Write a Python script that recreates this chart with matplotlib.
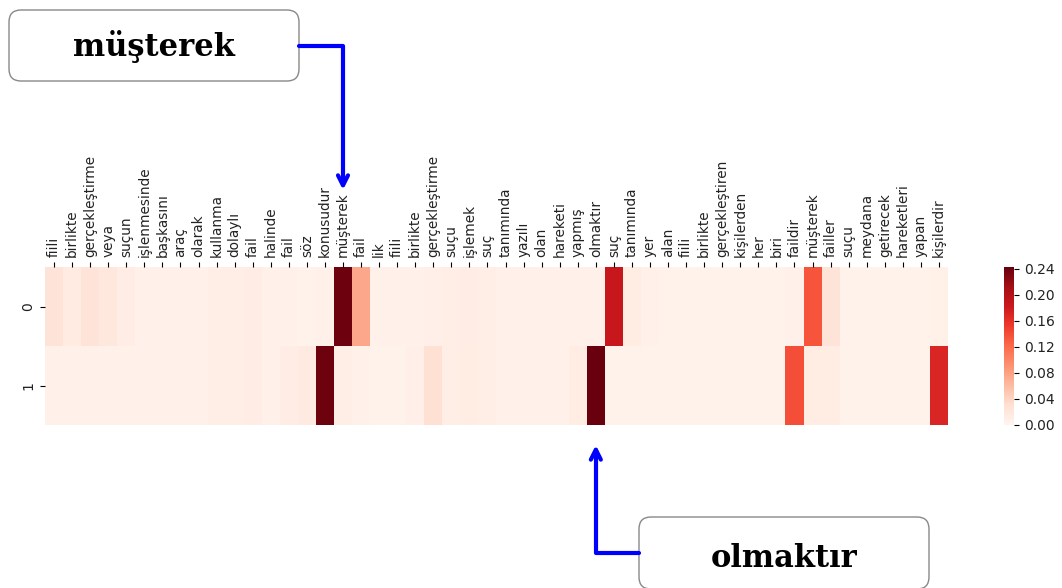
import numpy as np
import matplotlib
matplotlib.use("Agg")
import matplotlib.pyplot as plt
from matplotlib.patches import FancyBboxPatch

tokens = ["fiili", "birlikte", "gerçekleştirme", "veya", "suçun", "işlenmesinde",
          "başkasını", "araç", "olarak", "kullanma", "dolaylı", "fail", "halinde",
          "fail", "söz", "konusudur", "müşterek", "fail", "lik", "fiili", "birlikte",
          "gerçekleştirme", "suçu", "işlemek", "suç", "tanımında", "yazılı", "olan",
          "hareketi", "yapmış", "olmaktır", "suç", "tanımında", "yer", "alan", "fiili",
          "birlikte", "gerçekleştiren", "kişilerden", "her", "biri", "faildir",
          "müşterek", "failler", "suçu", "meydana", "getirecek", "hareketleri",
          "yapan", "kişilerdir"]
row_labels = ["0", "1"]

row0 = [0.025, 0.015, 0.025, 0.020, 0.012, 0.007, 0.007, 0.007, 0.007, 0.011,
        0.011, 0.013, 0.007, 0.007, 0.005, 0.007, 0.240, 0.075, 0.007, 0.007,
        0.007, 0.009, 0.011, 0.013, 0.011, 0.007, 0.007, 0.007, 0.007, 0.007,
        0.007, 0.185, 0.014, 0.007, 0.005, 0.005, 0.005, 0.005, 0.005, 0.005,
        0.005, 0.007, 0.135, 0.025, 0.005, 0.005, 0.005, 0.005, 0.005, 0.008]
row1 = [0.006, 0.006, 0.006, 0.006, 0.006, 0.006, 0.006, 0.007, 0.007, 0.011,
        0.011, 0.012, 0.007, 0.013, 0.016, 0.240, 0.011, 0.007, 0.005, 0.005,
        0.009, 0.030, 0.011, 0.014, 0.011, 0.007, 0.007, 0.007, 0.007, 0.014,
        0.242, 0.005, 0.005, 0.005, 0.005, 0.005, 0.005, 0.005, 0.005, 0.005,
        0.005, 0.140, 0.014, 0.014, 0.005, 0.005, 0.005, 0.005, 0.005, 0.170]
cbar_ticks = [0.00, 0.04, 0.08, 0.12, 0.16, 0.20, 0.24]
notes = ["müşterek", "olmaktır"]
note_cols = [16, 30]

W, H = 1062, 588
fig = plt.figure(figsize=(W / 100, H / 100), dpi=100)

data = np.array([row0, row1])
ax = fig.add_axes([45 / W, 1 - 425 / H, (948 - 45) / W, (425 - 267) / H])
mesh = ax.pcolormesh(data, cmap="Reds", vmin=0, vmax=0.243)
ax.set_xlim(0, len(tokens))
ax.set_ylim(len(row_labels), 0)
ax.set_xticks(np.arange(len(tokens)) + 0.5)
ax.set_xticklabels(tokens, rotation=90, fontsize=9.8, color="#222222")
ax.xaxis.tick_top()
ax.set_yticks(np.arange(len(row_labels)) + 0.5)
ax.set_yticklabels(row_labels, rotation=90, va="center", fontsize=10, color="#222222")
for s in ax.spines.values():
    s.set_visible(False)

cax = fig.add_axes([1004 / W, 1 - 425 / H, 10 / W, (425 - 267) / H])
cb = fig.colorbar(mesh, cax=cax, ticks=cbar_ticks)
cb.outline.set_visible(False)
cb.ax.set_yticklabels([f"{t:.2f}" for t in cbar_ticks], fontsize=10, color="#222222")

# overlay in pixel coordinates for annotation boxes and arrows
ov = fig.add_axes([0, 0, 1, 1], zorder=5)
ov.set_xlim(0, W)
ov.set_ylim(0, H)
ov.axis("off")
ov.patch.set_alpha(0)

def col_x(c):
    return ax.transData.transform((c + 0.5, 0))[0]

boxes = [(9, 299, H - 81, H - 10), (639, 929, H - 589, H - 517)]
text_base = [H - 56, H - 567]
arrow_tip_y = [H - 190, H - 445]
for i, (x0, x1, y0, y1) in enumerate(boxes):
    ov.add_patch(FancyBboxPatch((x0, y0), x1 - x0, y1 - y0,
                                boxstyle="round,pad=0,rounding_size=12",
                                fc="white", ec="#888888", lw=1.0))
    ov.text((x0 + x1) / 2, text_base[i], notes[i], ha="center", va="baseline",
            fontsize=22, fontweight="bold", family="DejaVu Serif")
    start_x = x1 if i == 0 else x0
    mid_y = (y0 + y1) / 2
    ov.annotate("", xy=(col_x(note_cols[i]), arrow_tip_y[i]), xytext=(start_x, mid_y),
                arrowprops=dict(arrowstyle="->", color="blue", lw=3,
                                connectionstyle="angle,angleA=0,angleB=90,rad=0",
                                shrinkA=0, shrinkB=0, mutation_scale=18))

fig.savefig("out.png", dpi=100)
